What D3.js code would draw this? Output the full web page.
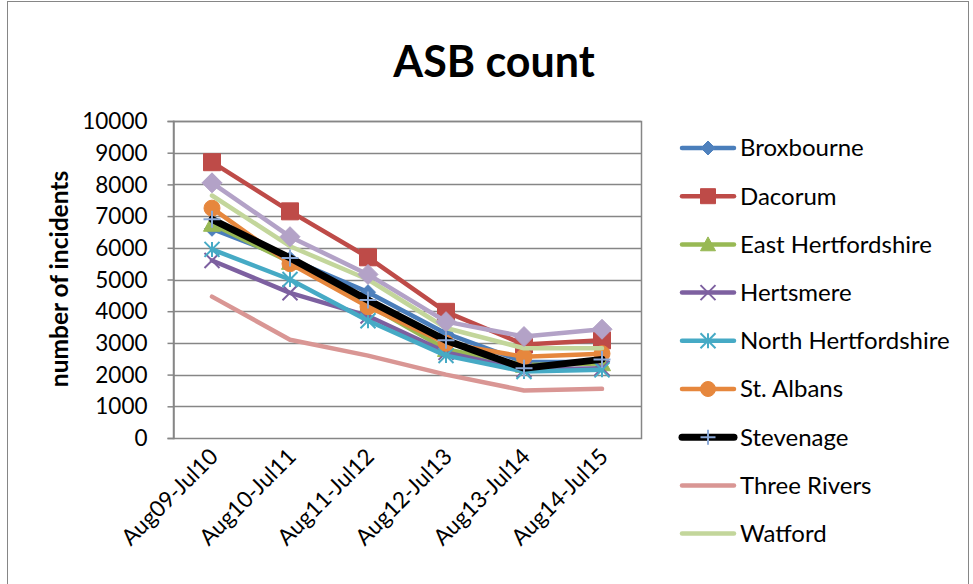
<!DOCTYPE html>
<html>
<head>
<meta charset="utf-8">
<script src="https://cdn.jsdelivr.net/npm/d3@7"></script>
<style>
  html, body { margin: 0; padding: 0; background: #fff; }
  svg text { font-family: Lato, "Open Sans", sans-serif; fill: #000; }
</style>
</head>
<body>
<svg id="chart" width="973" height="584"></svg>
<script>
// ASB incident counts by district, yearly periods Aug–Jul
const periods = ["Aug09-Jul10", "Aug10-Jul11", "Aug11-Jul12", "Aug12-Jul13", "Aug13-Jul14", "Aug14-Jul15"];
const yTicks = [0, 1000, 2000, 3000, 4000, 5000, 6000, 7000, 8000, 9000, 10000];

const broxbourne = [6600, 5650, 4600, 3300, 2400, 2400];
const dacorum = [8700, 7150, 5700, 3980, 2950, 3080];
const eastHerts = [6750, 5550, 4200, 2800, 2300, 2350];
const hertsmere = [5600, 4580, 3850, 2700, 2150, 2200];
const northHerts = [5950, 5000, 3700, 2600, 2100, 2150];
const stAlbans = [7250, 5500, 4140, 2990, 2560, 2660];
const stevenage = [6900, 5680, 4350, 3080, 2200, 2480];
const threeRivers = [4460, 3100, 2600, 2000, 1500, 1550];
const watford = [7650, 6050, 5000, 3470, 2830, 2830];
const welwynHatfield = [8050, 6350, 5160, 3670, 3200, 3430];

const series = [
  { name: "Broxbourne", values: broxbourne, color: "#4A7EBB", marker: "diamond", mColor: "#4F81BD", size: 15, width: 4.5, legend: true },
  { name: "Dacorum", values: dacorum, color: "#BE4B48", marker: "square", mColor: "#BE4B48", size: 17, width: 4.5, legend: true },
  { name: "East Hertfordshire", values: eastHerts, color: "#98B954", marker: "triangle", mColor: "#98B954", size: 17, width: 4.5, legend: true },
  { name: "Hertsmere", values: hertsmere, color: "#7D60A0", marker: "x", mColor: "#7D60A0", size: 15, width: 4.5, legend: true },
  { name: "North Hertfordshire", values: northHerts, color: "#46AAC5", marker: "asterisk", mColor: "#46AAC5", size: 15, width: 4.5, legend: true },
  { name: "St. Albans", values: stAlbans, color: "#E6873D", marker: "circle", mColor: "#E6873D", size: 16, width: 4.5, legend: true },
  { name: "Stevenage", values: stevenage, color: "#000000", marker: "plus", mColor: "#8AA8D6", size: 17, width: 7, legend: true },
  { name: "Three Rivers", values: threeRivers, color: "#D99694", marker: null, width: 4.5, legend: true },
  { name: "Watford", values: watford, color: "#C3D69B", marker: null, width: 4.5, legend: true },
  { name: "Welwyn Hatfield", values: welwynHatfield, color: "#B3A2C7", marker: "diamond", mColor: "#B3A2C7", size: 20, width: 4.5, legend: false }
];

const svg = d3.select("#chart");
const plot = { left: 173, right: 641, top: 121, bottom: 438 };

// outer chart frame
svg.append("rect").attr("x", 7.5).attr("y", 1.5).attr("width", 961).attr("height", 600)
  .attr("fill", "none").attr("stroke", "#868686").attr("stroke-width", 1);

const x = d3.scalePoint().domain(periods).range([plot.left, plot.right]).padding(0.5);
const y = d3.scaleLinear().domain([0, 10000]).range([plot.bottom, plot.top]);

// gridlines
svg.append("g").selectAll("line").data(yTicks.filter(t => t > 0)).join("line")
  .attr("x1", plot.left).attr("x2", plot.right)
  .attr("y1", d => Math.round(y(d)) + 0.5).attr("y2", d => Math.round(y(d)) + 0.5)
  .attr("stroke", "#868686").attr("stroke-width", 1.5);

// plot area border
svg.append("rect").attr("x", plot.left + 0.5).attr("y", Math.round(plot.top) + 0.5)
  .attr("width", plot.right - plot.left).attr("height", plot.bottom - plot.top)
  .attr("fill", "none").attr("stroke", "#868686").attr("stroke-width", 1.5);

// y axis
const yAxis = d3.axisLeft(y).tickValues(yTicks).tickSize(6).tickPadding(20).tickFormat(d3.format("d"));
const gy = svg.append("g").attr("transform", `translate(${plot.left + 0.5},0)`).call(yAxis);
gy.select(".domain").attr("stroke", "#868686").attr("stroke-width", 1.5);
gy.selectAll(".tick line").attr("stroke", "#868686").attr("stroke-width", 1.5);
gy.selectAll(".tick text").style("font-size", "22.5px").style("font-family", "Lato, sans-serif").attr("dy", "0.34em");

// x axis labels, rotated
const xAxis = d3.axisBottom(x).tickSize(0).tickPadding(0);
const gx = svg.append("g").attr("transform", `translate(0,${plot.bottom})`).call(xAxis);
gx.select(".domain").remove();
gx.selectAll(".tick text")
  .style("font-size", "22.5px").style("font-family", "Lato, sans-serif")
  .attr("text-anchor", "end").attr("dy", "0")
  .attr("transform", "translate(7,20) rotate(-45)");

// titles
svg.append("text").attr("x", 494).attr("y", 77).attr("text-anchor", "middle")
  .style("font-size", "43px").style("font-weight", "bold").text("ASB count");
svg.append("text").attr("transform", "translate(68,279) rotate(-90)").attr("text-anchor", "middle")
  .style("font-size", "24.5px").style("font-weight", "bold").text("number of incidents");

function markerPath(type, s) {
  const h = s / 2;
  switch (type) {
    case "diamond": return `M0,${-h}L${h},0L0,${h}L${-h},0Z`;
    case "square": return `M${-h},${-h}H${h}V${h}H${-h}Z`;
    case "triangle": return `M0,${-h}L${h},${h * 0.85}L${-h},${h * 0.85}Z`;
    case "x": return `M${-h},${-h}L${h},${h}M${h},${-h}L${-h},${h}`;
    case "plus": return `M${-h},0H${h}M0,${-h}V${h}`;
    case "asterisk": return `M${-h},${-h}L${h},${h}M${h},${-h}L${-h},${h}M0,${-h}V${h}`;
    case "circle": return d3.symbol(d3.symbolCircle, Math.PI * h * h)();
  }
  return "";
}
const strokedMarkers = new Set(["x", "plus", "asterisk"]);

function drawMarker(g, s, cx, cy, size) {
  const p = g.append("path").attr("transform", `translate(${cx},${cy})`).attr("d", markerPath(s.marker, size));
  if (strokedMarkers.has(s.marker)) {
    p.attr("fill", "none").attr("stroke", s.mColor).attr("stroke-width", 2);
  } else {
    p.attr("fill", s.mColor).attr("stroke", s.mColor).attr("stroke-width", 1);
  }
}

const line = d3.line().x((d, i) => x(periods[i])).y(d => y(d));

series.forEach(s => {
  const g = svg.append("g");
  g.append("path").attr("d", line(s.values)).attr("fill", "none")
    .attr("stroke", s.color).attr("stroke-width", s.width)
    .attr("stroke-linejoin", "round").attr("stroke-linecap", "round");
  if (s.marker) {
    s.values.forEach((v, i) => drawMarker(g, s, x(periods[i]), y(v), s.size));
  }
});

// legend
const legendItems = series.filter(s => s.legend);
const lg = svg.append("g");
legendItems.forEach((s, i) => {
  const cy = 148 + i * 48.2;
  const g = lg.append("g");
  g.append("line").attr("x1", 682).attr("x2", 734).attr("y1", cy).attr("y2", cy)
    .attr("stroke", s.color).attr("stroke-width", s.width === 7 ? 7 : 4.5).attr("stroke-linecap", "round");
  if (s.marker) drawMarker(g, s, 708, cy, s.marker === "diamond" ? 14 : 15);
  g.append("text").attr("x", 740).attr("y", cy).attr("dy", "0.35em")
    .style("font-size", "24px").text(s.name);
});
</script>
</body>
</html>
